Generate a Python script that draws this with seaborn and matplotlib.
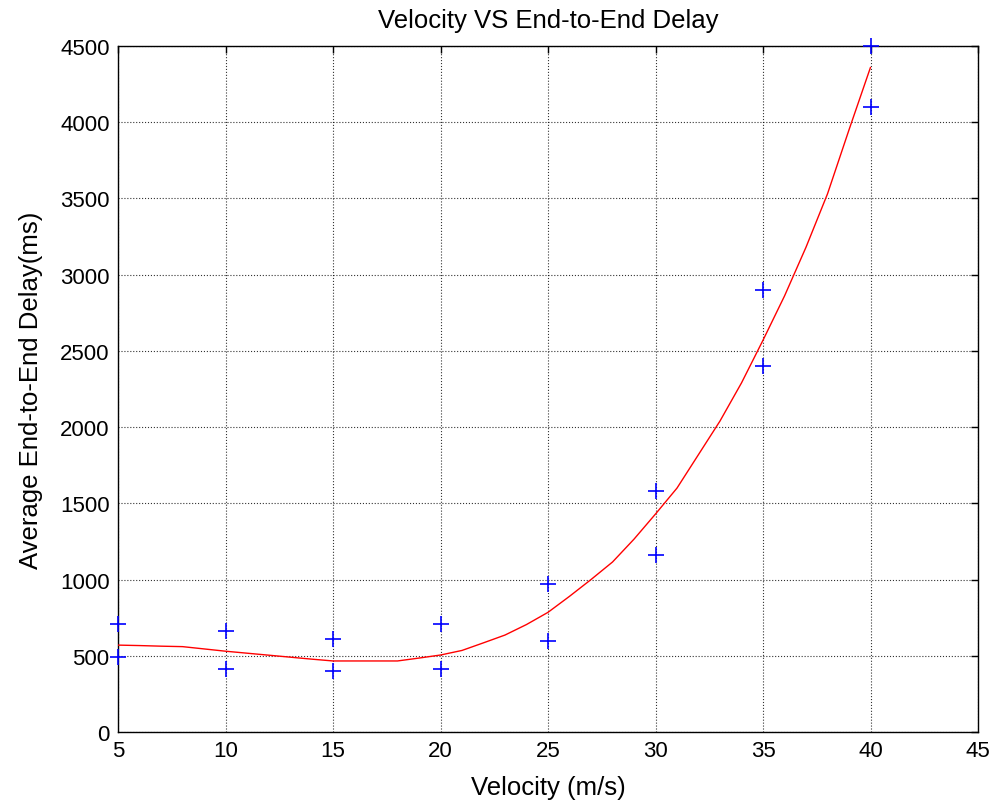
import matplotlib
matplotlib.use("Agg")
import matplotlib.pyplot as plt
import seaborn as sns
import pandas as pd

# Measured points (velocity, delay)
pt_velocity = [5, 5, 10, 10, 15, 15, 20, 20, 25, 25, 30, 30, 35, 35, 40, 40]
pt_delay = [710, 490, 660, 410, 610, 400, 710, 410, 970, 600, 1580, 1160, 2900, 2400, 4500, 4100]

# Fitted curve
fit_velocity = list(range(5, 41))
fit_delay = [570, 567, 563, 560, 545, 530, 517, 504, 491, 478, 466, 466, 466, 466, 485,
             505, 535, 585, 636, 705, 785, 890, 1000, 1115, 1265, 1430, 1600, 1820, 2040,
             2290, 2570, 2860, 3180, 3530, 3950, 4360]

x_ticks = [5, 10, 15, 20, 25, 30, 35, 40, 45]
y_ticks = [0, 500, 1000, 1500, 2000, 2500, 3000, 3500, 4000, 4500]

sns.set_theme(style="white")
plt.rcParams['font.family'] = ['Liberation Sans', 'DejaVu Sans']
plt.rcParams['text.color'] = 'black'
plt.rcParams['axes.labelcolor'] = 'black'

fig = plt.figure(figsize=(9.97, 8.03), dpi=100)
ax = fig.add_axes([118/997, 1 - 733/803, (978-118)/997, (733-47)/803])

pts = pd.DataFrame({"v": pt_velocity, "d": pt_delay})
fit = pd.DataFrame({"v": fit_velocity, "d": fit_delay})

sns.lineplot(data=fit, x="v", y="d", ax=ax, color="red", linewidth=1.0, zorder=3)
ax.plot(pts["v"], pts["d"], linestyle="none", marker="+", color="blue",
        markersize=12, markeredgewidth=1.2, zorder=4, clip_on=False)

ax.set_xlim(5, 45)
ax.set_ylim(0, 4500)
ax.set_xticks(x_ticks)
ax.set_yticks(y_ticks)
ax.tick_params(direction="in", length=5, width=1, top=True, right=True,
               labelsize=16, colors="black", pad=6)
ax.grid(True, color="black", linestyle=":", linewidth=0.8, alpha=0.8)
for s in ax.spines.values():
    s.set_visible(True)
    s.set_color("black")
    s.set_linewidth(1.0)

ax.set_title("Velocity VS End-to-End Delay", fontsize=18.5, pad=14, color="black")
ax.set_xlabel("Velocity (m/s)", fontsize=18.5, labelpad=10, color="black")
ax.set_ylabel("Average End-to-End Delay(ms)", fontsize=18.5, labelpad=12, color="black")

fig.savefig("out.png", dpi=100, facecolor="white")
